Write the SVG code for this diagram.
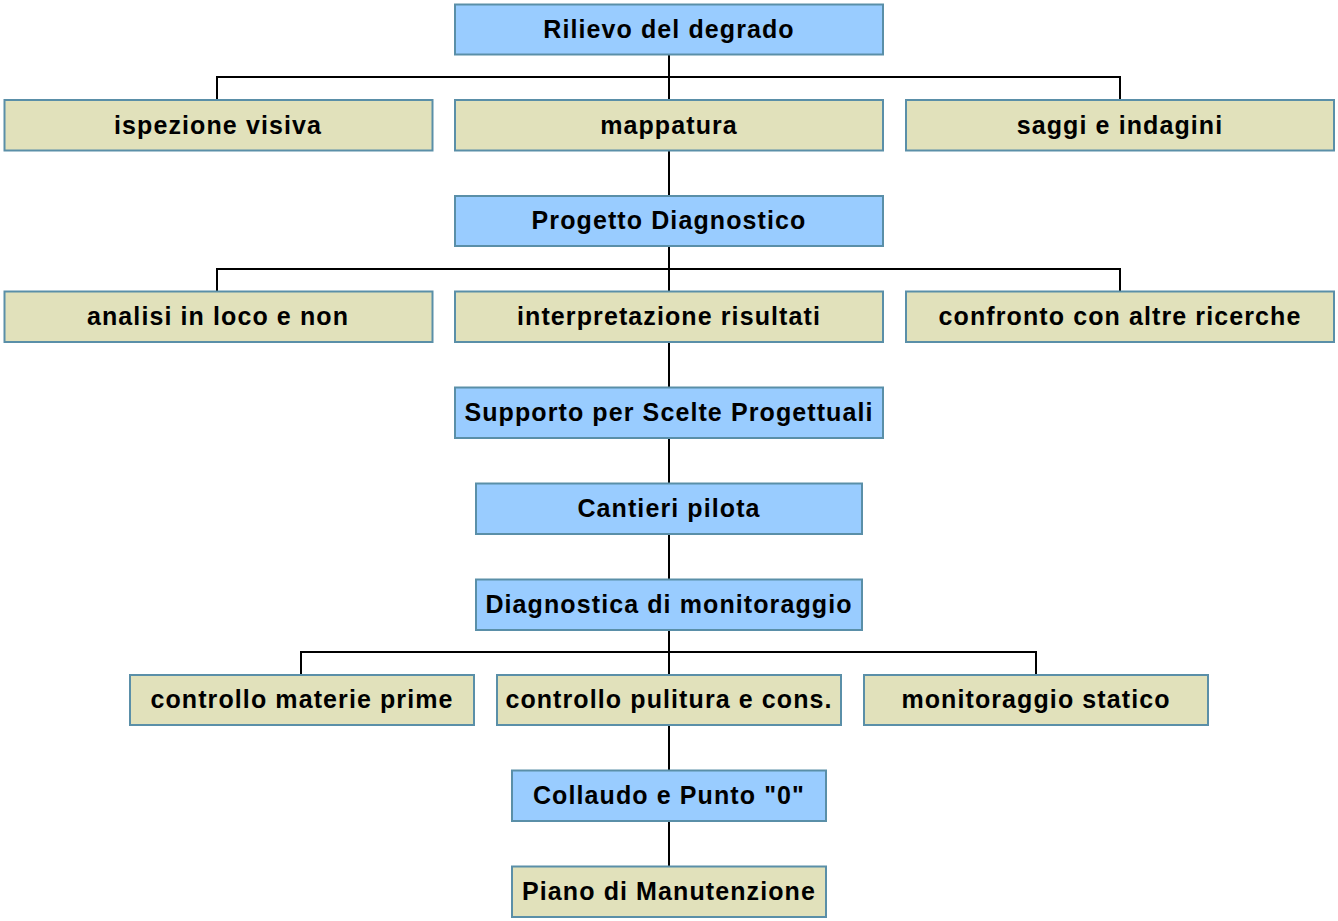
<svg xmlns="http://www.w3.org/2000/svg" width="1338" height="921" viewBox="0 0 1338 921">
<style>
.b{fill:#99ccff;stroke:#5a8fa8;stroke-width:2}
.t{fill:#e1e1bb;stroke:#5a8fa8;stroke-width:2}
text{font-family:"Liberation Sans",Arial,sans-serif;font-weight:bold;font-size:25px;letter-spacing:1.1px;fill:#000;text-anchor:middle}
.c{fill:none;stroke:#000;stroke-width:2}
</style>
<rect width="1338" height="921" fill="#fff"/>
<g id="connectors">
<path class="c" d="M669 54V100M217 100V77H1120V100"/>
<path class="c" d="M669 151V196"/>
<path class="c" d="M669 246V291M217 291V269H1120V291"/>
<path class="c" d="M669 342V387"/>
<path class="c" d="M669 438V483"/>
<path class="c" d="M669 534V579"/>
<path class="c" d="M669 630V675M301 675V652H1036V675"/>
<path class="c" d="M669 725V770"/>
<path class="c" d="M669 821V866"/>
</g>
<g id="n1"><rect class="b" x="455" y="4.5" width="428" height="50"/><text x="669" y="37.5">Rilievo del degrado</text></g>
<g id="n2"><rect class="t" x="4.5" y="100" width="428" height="50.5"/><text x="218" y="133.5">ispezione visiva</text></g>
<g id="n3"><rect class="t" x="455" y="100" width="428" height="50.5"/><text x="669" y="133.5">mappatura</text></g>
<g id="n4"><rect class="t" x="906" y="100" width="428" height="50.5"/><text x="1120" y="133.5">saggi e indagini</text></g>
<g id="n5"><rect class="b" x="455" y="196" width="428" height="50"/><text x="669" y="229">Progetto Diagnostico</text></g>
<g id="n6"><rect class="t" x="4.5" y="291.5" width="428" height="50.5"/><text x="218" y="325">analisi in loco e non</text></g>
<g id="n7"><rect class="t" x="455" y="291.5" width="428" height="50.5"/><text x="669" y="325">interpretazione risultati</text></g>
<g id="n8"><rect class="t" x="906" y="291.5" width="428" height="50.5"/><text x="1120" y="325">confronto con altre ricerche</text></g>
<g id="n9"><rect class="b" x="455" y="387.5" width="428" height="50.5"/><text x="669" y="420.5">Supporto per Scelte Progettuali</text></g>
<g id="n10"><rect class="b" x="476" y="483.5" width="386" height="50.5"/><text x="669" y="516.5">Cantieri pilota</text></g>
<g id="n11"><rect class="b" x="476" y="579.5" width="386" height="50.5"/><text x="669" y="612.5">Diagnostica di monitoraggio</text></g>
<g id="n12"><rect class="t" x="130" y="675" width="344" height="50"/><text x="302" y="708">controllo materie prime</text></g>
<g id="n13"><rect class="t" x="497" y="675" width="344" height="50"/><text x="669" y="708">controllo pulitura e cons.</text></g>
<g id="n14"><rect class="t" x="864" y="675" width="344" height="50"/><text x="1036" y="708">monitoraggio statico</text></g>
<g id="n15"><rect class="b" x="512" y="770.5" width="314" height="50.5"/><text x="669" y="804">Collaudo e Punto "0"</text></g>
<g id="n16"><rect class="t" x="512" y="866.5" width="314" height="50.5"/><text x="669" y="900">Piano di Manutenzione</text></g>
</svg>
